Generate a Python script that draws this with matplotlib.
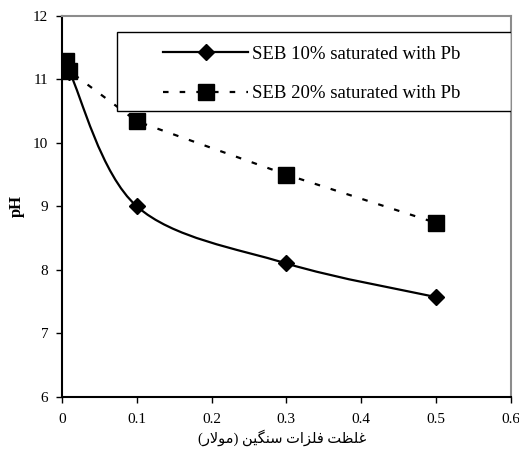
import matplotlib
matplotlib.use('Agg')
import matplotlib.pyplot as plt
from matplotlib.path import Path
from matplotlib.patches import PathPatch, Rectangle
from matplotlib.lines import Line2D

# data
conc = [0.005, 0.01, 0.1, 0.3, 0.5]
ph_10 = [11.28, 11.12, 9.0, 8.1, 7.57]
ph_20 = [11.29, 11.13, 10.34, 9.5, 8.74]
label_10 = 'SEB 10% saturated with Pb'
label_20 = 'SEB 20% saturated with Pb'
# "غلظت فلزات سنگین (مولار)" written in shaped, visual order (no bidi engine in matplotlib)
xlabel = ('(\uFEAD\uFEFB\uFEEE\uFEE3) '
          '\uFEE6\uFBFF\uFB95\uFEE8\uFEB3 '
          '\uFE95\uFE8D\uFEB0\uFEE0\uFED3 '
          '\uFE96\uFEC8\uFEE0\uFECF')

plt.rcParams['font.family'] = ['Liberation Serif', 'DejaVu Sans']

fig = plt.figure(figsize=(5.19, 4.5), dpi=100)
ax = fig.add_axes([0.1195, 0.1185, 0.8645, 0.846])


def smooth_path(xs, ys):
    # excel-like smoothed line: catmull-rom segments as cubic beziers
    pts = list(zip(xs, ys))
    verts = [pts[0]]
    codes = [Path.MOVETO]
    n = len(pts)
    for i in range(n - 1):
        p0 = pts[max(i - 1, 0)]
        p1 = pts[i]
        p2 = pts[i + 1]
        p3 = pts[min(i + 2, n - 1)]
        c1 = (p1[0] + (p2[0] - p0[0]) / 6, p1[1] + (p2[1] - p0[1]) / 6)
        c2 = (p2[0] - (p3[0] - p1[0]) / 6, p2[1] - (p3[1] - p1[1]) / 6)
        verts += [c1, c2, p2]
        codes += [Path.CURVE4] * 3
    return Path(verts, codes)


ax.add_patch(PathPatch(smooth_path(conc, ph_10), fill=False, edgecolor='black',
                       lw=1.6, zorder=2))
ax.plot(conc, ph_10, linestyle='none', marker='D', ms=8, color='black', zorder=3)

ax.plot(conc, ph_20, linestyle=(0, (2.5, 5)), lw=1.6, color='black', zorder=2)
ax.plot(conc, ph_20, linestyle='none', marker='s', ms=11, color='black', zorder=6)

ax.set_xlim(0, 0.6)
ax.set_ylim(6, 12)
ax.set_xticks([0, 0.1, 0.2, 0.3, 0.4, 0.5, 0.6])
ax.set_xticklabels(['0', '0.1', '0.2', '0.3', '0.4', '0.5', '0.6'])
ax.set_yticks([6, 7, 8, 9, 10, 11, 12])
ax.tick_params(direction='out', length=4, width=1, labelsize=11, colors='black')
ax.tick_params(axis='x', pad=8)
ax.tick_params(axis='y', pad=6)

for s in ['left', 'bottom']:
    ax.spines[s].set_linewidth(1.5)
    ax.spines[s].set_color('black')
for s in ['top', 'right']:
    ax.spines[s].set_linewidth(1.5)
    ax.spines[s].set_color('#8c8c8c')

ax.set_ylabel('pH', fontsize=12, fontweight='bold', labelpad=6)
ax.set_xlabel(xlabel, fontsize=10.5)
ax.xaxis.set_label_coords(0.49, -0.085)

# legend box
box = Rectangle((0.122, 0.750), 0.878, 0.207, transform=ax.transAxes,
                facecolor='white', edgecolor='black', lw=1.0, zorder=4)
ax.add_patch(box)
handles = [Line2D([], [], color='black', lw=1.6, marker='D', ms=8),
           Line2D([], [], color='black', lw=1.6, linestyle=(0, (2.5, 5)), marker='s', ms=11)]
leg = ax.legend(handles, [label_10, label_20], loc='upper left', frameon=False,
                bbox_to_anchor=(0.226, 0.922), borderaxespad=0, borderpad=0,
                fontsize=13.5, handlelength=4.5, handletextpad=0.2, labelspacing=1.2,
                numpoints=1)
leg.set_zorder(5)

plt.savefig('out.png', dpi=100)
